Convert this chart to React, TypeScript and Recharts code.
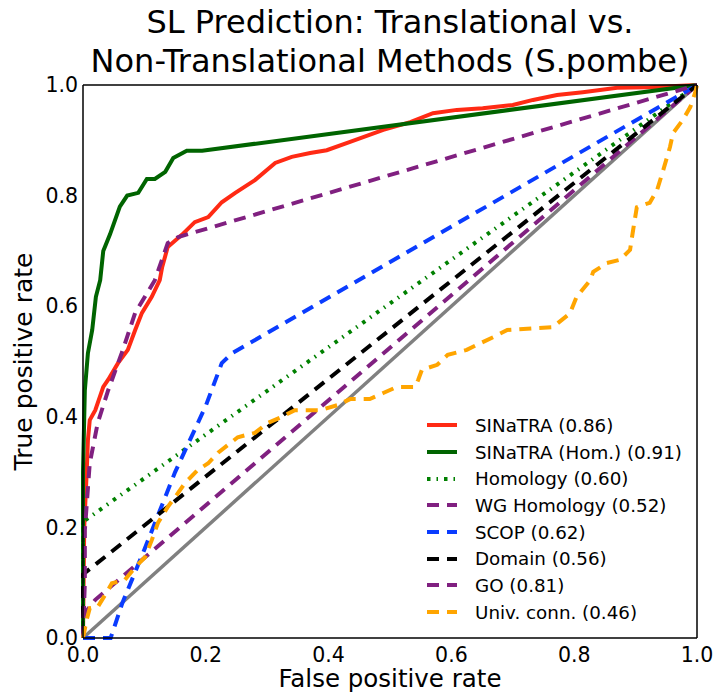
import { LineChart, Line, XAxis, YAxis, Legend } from "recharts";

type Pt = [number, number];

// ROC points as [false positive rate, true positive rate]
const sinatra: Pt[] = [
  [0, 0], [0.002, 0.2], [0.006, 0.3], [0.008, 0.358], [0.011, 0.394], [0.02, 0.412],
  [0.033, 0.454], [0.041, 0.467], [0.057, 0.497], [0.073, 0.521], [0.085, 0.557],
  [0.096, 0.588], [0.112, 0.617], [0.125, 0.647], [0.129, 0.671], [0.138, 0.707],
  [0.161, 0.729], [0.182, 0.752], [0.204, 0.761], [0.226, 0.788], [0.248, 0.805],
  [0.28, 0.828], [0.313, 0.859], [0.34, 0.87], [0.37, 0.877], [0.397, 0.882],
  [0.435, 0.897], [0.489, 0.919], [0.533, 0.933], [0.57, 0.949], [0.609, 0.955],
  [0.651, 0.958], [0.7, 0.964], [0.733, 0.973], [0.772, 0.982], [0.814, 0.987],
  [0.87, 0.995], [0.923, 0.996], [1, 1],
];
const sinatraHom: Pt[] = [
  [0, 0], [0, 0.3], [0.003, 0.448], [0.008, 0.515], [0.015, 0.557], [0.021, 0.617],
  [0.028, 0.647], [0.033, 0.7], [0.044, 0.73], [0.06, 0.78], [0.072, 0.8], [0.09, 0.805],
  [0.104, 0.83], [0.117, 0.83], [0.134, 0.843], [0.147, 0.868], [0.169, 0.881],
  [0.194, 0.881], [1, 1],
];
const homology: Pt[] = [[0, 0], [0, 0.21], [1, 1]];
const wgHomology: Pt[] = [[0, 0], [0.003, 0.045], [0.02, 0.069], [1, 1]];
const scop: Pt[] = [
  [0, 0], [0.045, 0], [0.064, 0.063], [0.1, 0.16], [0.15, 0.3], [0.2, 0.42],
  [0.226, 0.497], [0.243, 0.515], [1, 1],
];
const domain: Pt[] = [[0, 0], [0, 0.115], [1, 1]];
const go: Pt[] = [
  [0, 0], [0.003, 0.1], [0.003, 0.195], [0.011, 0.316], [0.024, 0.389], [0.041, 0.448],
  [0.063, 0.515], [0.085, 0.588], [0.117, 0.647], [0.138, 0.714], [0.155, 0.725], [1, 1],
];
const univConn: Pt[] = [
  [0, 0], [0.006, 0.033], [0.011, 0.054], [0.024, 0.056], [0.041, 0.087], [0.047, 0.099],
  [0.068, 0.105], [0.085, 0.128], [0.101, 0.146], [0.112, 0.177], [0.122, 0.208],
  [0.138, 0.237], [0.15, 0.255], [0.166, 0.28], [0.187, 0.304], [0.204, 0.316],
  [0.22, 0.335], [0.252, 0.363], [0.28, 0.371], [0.301, 0.389], [0.324, 0.4],
  [0.345, 0.412], [0.386, 0.412], [0.414, 0.421], [0.435, 0.432], [0.467, 0.432],
  [0.489, 0.443], [0.511, 0.454], [0.541, 0.454], [0.546, 0.467], [0.552, 0.485],
  [0.577, 0.494], [0.594, 0.512], [0.625, 0.521], [0.647, 0.533], [0.668, 0.544],
  [0.691, 0.557], [0.733, 0.56], [0.765, 0.562], [0.793, 0.587], [0.804, 0.617],
  [0.826, 0.647], [0.831, 0.662], [0.853, 0.678], [0.875, 0.684], [0.891, 0.702],
  [0.896, 0.738], [0.902, 0.779], [0.923, 0.787], [0.935, 0.81], [0.945, 0.846],
  [0.956, 0.888], [0.961, 0.913], [0.977, 0.937], [0.989, 0.96], [0.997, 0.986], [1, 1],
];
const chance: Pt[] = [[0, 0], [1, 1]];

const ticks = [0, 0.2, 0.4, 0.6, 0.8, 1.0];

const FONT = "'DejaVu Sans', sans-serif";
const DASH = "12 8";

const series = [
  { name: "SINaTRA (0.86)", pts: sinatra, color: "#ff2a14", dash: undefined },
  { name: "SINaTRA (Hom.) (0.91)", pts: sinatraHom, color: "#006400", dash: undefined },
  { name: "Homology (0.60)", pts: homology, color: "#008000", dash: "3.5 6 1.5 6" },
  { name: "WG Homology (0.52)", pts: wgHomology, color: "#802080", dash: DASH },
  { name: "SCOP (0.62)", pts: scop, color: "#0a3cff", dash: DASH },
  { name: "Domain (0.56)", pts: domain, color: "#000000", dash: DASH },
  { name: "GO (0.81)", pts: go, color: "#802080", dash: DASH },
  { name: "Univ. conn. (0.46)", pts: univConn, color: "#ffa500", dash: DASH },
];

const toRows = (pts: Pt[]) => pts.map(([fpr, tpr]) => ({ fpr, tpr }));

const fmt = (v: number) => v.toFixed(1);
const tickStyle = { fontSize: 20.5, fill: "#000", fontFamily: FONT };
const frame = { stroke: "#000", strokeWidth: 1.5 };
const noLabel = () => <g />;

function LegendBox() {
  return (
    <div style={{ fontFamily: FONT, fontSize: 18.3, color: "#000" }}>
      {series.map((s) => (
        <div key={s.name} style={{ display: "flex", alignItems: "center", height: 26.7 }}>
          <svg width={30} height={10} style={{ marginRight: 18 }}>
            <line x1={0} y1={5} x2={30} y2={5} stroke={s.color} strokeWidth={4} strokeDasharray={s.dash} />
          </svg>
          <span>{s.name}</span>
        </div>
      ))}
    </div>
  );
}

export default function App() {
  return (
    <div style={{ position: "relative", width: 718, height: 696 }}>
      {/* the figure fills the whole page */}
      <style>{"body { margin: 0; }"}</style>
      <div
        style={{
          position: "absolute", left: 0, top: 3, width: 780, textAlign: "center",
          fontFamily: FONT, fontSize: 32, lineHeight: "39px", color: "#000",
        }}
      >
        SL Prediction: Translational vs.
        <br />
        Non-Translational Methods (S.pombe)
      </div>
      <LineChart width={718} height={696} margin={{ top: 85, right: 21, bottom: 0, left: 8 }}>
        {/* inward ticks on all four sides, drawn by mirrored axes */}
        <XAxis xAxisId="bm" type="number" dataKey="fpr" domain={[0, 1]} ticks={ticks} orientation="bottom" mirror height={1} tick={noLabel} tickSize={7} axisLine={false} tickLine={frame} />
        <XAxis xAxisId="top" type="number" dataKey="fpr" domain={[0, 1]} ticks={ticks} orientation="top" mirror height={1} tick={noLabel} tickSize={7} axisLine={frame} tickLine={frame} />
        <YAxis yAxisId="lm" type="number" dataKey="tpr" domain={[0, 1]} ticks={ticks} orientation="left" mirror width={1} tick={noLabel} tickSize={7} axisLine={false} tickLine={frame} />
        <YAxis yAxisId="right" type="number" dataKey="tpr" domain={[0, 1]} ticks={ticks} orientation="right" mirror width={1} tick={noLabel} tickSize={7} axisLine={frame} tickLine={frame} />
        <XAxis
          type="number" dataKey="fpr" domain={[0, 1]} ticks={ticks} tickFormatter={fmt}
          height={58} tickSize={0} tickMargin={9} tickLine={false} axisLine={frame} tick={tickStyle}
          label={({ viewBox }: any) => (
            <text x={viewBox.x + viewBox.width / 2} y={viewBox.y + 49} textAnchor="middle" fontFamily={FONT} fontSize={24.5} fill="#000">
              False positive rate
            </text>
          )}
        />
        <YAxis
          type="number" dataKey="tpr" domain={[0, 1]} ticks={ticks} tickFormatter={fmt}
          width={75} tickSize={0} tickMargin={5} tickLine={false} axisLine={frame} tick={tickStyle}
          label={({ viewBox }: any) => {
            const cx = viewBox.x + 15;
            const cy = viewBox.y + viewBox.height / 2;
            return (
              <text x={cx} y={cy} transform={`rotate(-90 ${cx} ${cy})`} textAnchor="middle" dominantBaseline="central" fontFamily={FONT} fontSize={25} fill="#000">
                True positive rate
              </text>
            );
          }}
        />
        <Line data={toRows(chance)} dataKey="tpr" stroke="#808080" strokeWidth={3.5} dot={false} isAnimationActive={false} legendType="none" />
        {series.map((s) => (
          <Line
            key={s.name} name={s.name} data={toRows(s.pts)} dataKey="tpr" type="linear"
            stroke={s.color} strokeWidth={4} strokeDasharray={s.dash} dot={false} isAnimationActive={false}
          />
        ))}
        <Legend
          layout="vertical" align="center" verticalAlign="middle"
          wrapperStyle={{ left: 427, top: 412, width: 280 }}
          content={() => <LegendBox />}
        />
      </LineChart>
    </div>
  );
}
